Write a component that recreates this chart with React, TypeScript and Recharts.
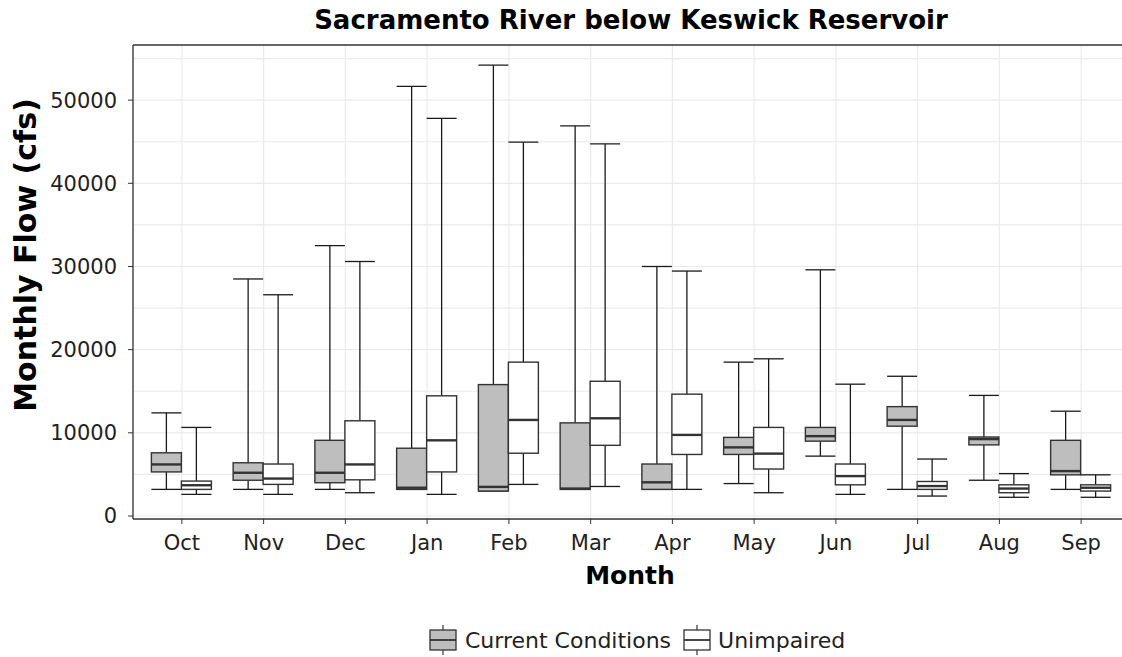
import React from 'react';
import { ComposedChart, Bar, XAxis, YAxis, CartesianGrid, ReferenceLine, Label } from 'recharts';

// month order of the water year
const months = ['Oct', 'Nov', 'Dec', 'Jan', 'Feb', 'Mar', 'Apr', 'May', 'Jun', 'Jul', 'Aug', 'Sep'];

// Current Conditions (cfs)
const curMin = [3200, 3200, 3200, 3200, 3000, 3200, 3200, 3900, 7200, 3200, 4300, 3200];
const curQ1 = [5300, 4300, 4000, 3200, 3000, 3200, 3200, 7400, 9000, 10800, 8550, 4950];
const curMed = [6200, 5200, 5200, 3400, 3500, 3300, 4050, 8250, 9600, 11550, 9250, 5400];
const curQ3 = [7600, 6400, 9100, 8150, 15800, 11200, 6250, 9450, 10650, 13150, 9500, 9100];
const curMax = [12400, 28500, 32500, 51650, 54200, 46900, 30000, 18500, 29600, 16800, 14500, 12600];

// Unimpaired (cfs)
const unMin = [2600, 2600, 2800, 2600, 3800, 3550, 3200, 2800, 2600, 2400, 2250, 2250];
const unQ1 = [3200, 3800, 4350, 5300, 7550, 8500, 7400, 5650, 3750, 3200, 2800, 3000];
const unMed = [3700, 4500, 6200, 9100, 11550, 11750, 9750, 7500, 4800, 3600, 3300, 3400];
const unQ3 = [4200, 6250, 11450, 14450, 18500, 16200, 14650, 10650, 6250, 4150, 3750, 3750];
const unMax = [10650, 26600, 30600, 47800, 44950, 44750, 29450, 18900, 15850, 6850, 5100, 4950];

const yTicks = [0, 10000, 20000, 30000, 40000, 50000];
const gridValues = [0, 5000, 10000, 15000, 20000, 25000, 30000, 35000, 40000, 45000, 50000, 55000];
const yDomain = [-360, 56630];

const data = months.map((m, i) => ({
  month: m,
  cur: [curMin[i], curMax[i]],
  curBox: { q1: curQ1[i], med: curMed[i], q3: curQ3[i] },
  un: [unMin[i], unMax[i]],
  unBox: { q1: unQ1[i], med: unMed[i], q3: unQ3[i] },
}));

const FONT = '"DejaVu Sans", sans-serif';
const EDGE = '#333333';

// the bar spans min..max; quartiles are placed on the same linear scale
function makeBox(key: string, fill: string) {
  return (props: any) => {
    const { x, y, width, height, payload } = props;
    const [lo, hi] = payload[key];
    const b = payload[key + 'Box'];
    const top = Math.min(y, y + height);
    const bottom = Math.max(y, y + height);
    const py = (v: number) => bottom - ((v - lo) / (hi - lo)) * (bottom - top);
    const cx = x + width / 2;
    const yq1 = py(b.q1);
    const yq3 = py(b.q3);
    const ym = py(b.med);
    return (
      <g>
        <line x1={cx} x2={cx} y1={top} y2={yq3} stroke="#1a1a1a" strokeWidth={1.3} />
        <line x1={cx} x2={cx} y1={yq1} y2={bottom} stroke="#1a1a1a" strokeWidth={1.3} />
        <line x1={x} x2={x + width} y1={top} y2={top} stroke="#1a1a1a" strokeWidth={1.3} />
        <line x1={x} x2={x + width} y1={bottom} y2={bottom} stroke="#1a1a1a" strokeWidth={1.3} />
        <rect x={x} y={yq3} width={width} height={Math.max(yq1 - yq3, 0.5)} fill={fill} stroke={EDGE} strokeWidth={1.4} />
        <line x1={x} x2={x + width} y1={ym} y2={ym} stroke={EDGE} strokeWidth={2.4} />
      </g>
    );
  };
}

function LegendGlyph({ fill }: { fill: string }) {
  return (
    <svg width={28} height={30} style={{ display: 'block' }}>
      <line x1={14} x2={14} y1={0} y2={5} stroke={EDGE} strokeWidth={1.2} />
      <line x1={14} x2={14} y1={25} y2={30} stroke={EDGE} strokeWidth={1.2} />
      <rect x={1} y={5} width={26} height={20} fill={fill} stroke={EDGE} strokeWidth={1.3} />
      <line x1={1} x2={27} y1={15} y2={15} stroke={EDGE} strokeWidth={1.8} />
    </svg>
  );
}

export default function App() {
  const tickStyle = { fontFamily: FONT, fontSize: 21, fill: '#222' };
  return (
    <div style={{ position: 'absolute', left: 0, top: 0, width: 1122, height: 657, overflow: 'hidden', background: '#fff' }}>
      <ComposedChart
        width={1140}
        height={657}
        data={data}
        margin={{ top: 45, right: 10, bottom: 68, left: 0 }}
        barCategoryGap="12.7%"
        barGap={0}
      >
        <CartesianGrid stroke="#ebebeb" strokeWidth={1.2} horizontalValues={gridValues} />
        <XAxis
          dataKey="month"
          padding={{ left: 8, right: 8 }}
          height={70}
          tick={tickStyle}
          tickSize={5}
          tickMargin={11}
          tickLine={{ stroke: EDGE }}
          axisLine={{ stroke: EDGE, strokeWidth: 1.3 }}
          interval={0}
        >
          <Label
            content={() => (
              <text x={630} y={584} textAnchor="middle" fontFamily={FONT} fontSize={25} fontWeight="bold" fill="#000">
                Month
              </text>
            )}
          />
        </XAxis>
        <YAxis
          width={133}
          domain={yDomain}
          ticks={yTicks}
          allowDataOverflow
          tick={tickStyle}
          tickSize={5}
          tickMargin={11}
          tickLine={{ stroke: EDGE }}
          axisLine={{ stroke: EDGE, strokeWidth: 1.3 }}
        >
          <Label
            content={() => (
              <text
                x={25}
                y={255}
                transform="rotate(-90 25 255)"
                textAnchor="middle"
                dominantBaseline="central"
                fontFamily={FONT}
                fontSize={30}
                fontWeight="bold"
                fill="#000"
              >
                Monthly Flow (cfs)
              </text>
            )}
          />
        </YAxis>
        <ReferenceLine y={yDomain[1]} stroke={EDGE} strokeWidth={1.3} />
        <Bar dataKey="cur" name="Current Conditions" fill="#bebebe" shape={makeBox('cur', '#bebebe')} isAnimationActive={false} />
        <Bar dataKey="un" name="Unimpaired" fill="#ffffff" shape={makeBox('un', '#ffffff')} isAnimationActive={false} />
        <text x={631} y={29} textAnchor="middle" fontFamily={FONT} fontSize={26} fontWeight="bold" fill="#000">
          Sacramento River below Keswick Reservoir
        </text>
      </ComposedChart>
      <div
        style={{
          position: 'absolute',
          left: 429,
          top: 625,
          display: 'flex',
          alignItems: 'center',
          fontFamily: FONT,
          fontSize: 22,
          color: '#222',
          whiteSpace: 'nowrap',
        }}
      >
        <LegendGlyph fill="#bebebe" />
        <span style={{ marginLeft: 8, marginRight: 12 }}>Current Conditions</span>
        <LegendGlyph fill="#ffffff" />
        <span style={{ marginLeft: 7 }}>Unimpaired</span>
      </div>
    </div>
  );
}
